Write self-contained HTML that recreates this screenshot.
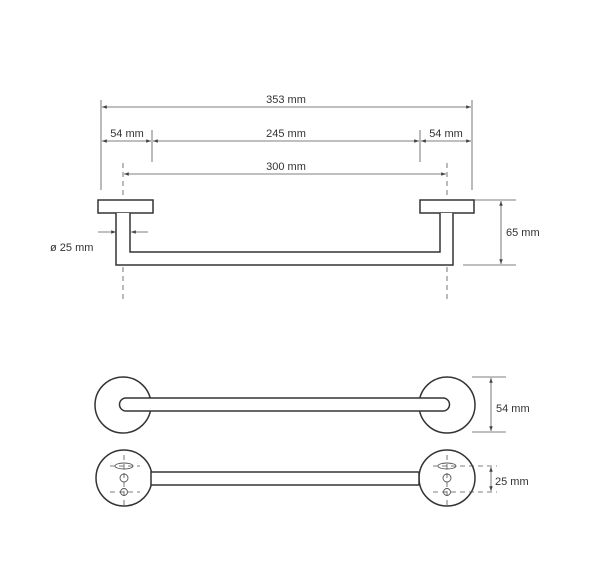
<!DOCTYPE html>
<html><head><style>body{margin:0;background:#fff}svg{display:block}text{font-family:"Liberation Sans",sans-serif;font-size:11px;fill:#333}</style></head><body>
<svg width="600" height="587" viewBox="0 0 600 587" xmlns="http://www.w3.org/2000/svg">
<defs><marker id="a" viewBox="0 0 6 6" refX="6" refY="3" markerWidth="6" markerHeight="6" orient="auto-start-reverse"><path d="M0,0.8 L6,3 L0,5.2z" fill="#444"/></marker></defs>
<g stroke="#555" stroke-width="0.8" fill="none">
<line x1="101" y1="100" x2="101" y2="190"/><line x1="472" y1="100" x2="472" y2="190"/>
<line x1="152" y1="130" x2="152" y2="162"/><line x1="420" y1="130" x2="420" y2="162"/>
<line x1="102" y1="107" x2="471" y2="107" marker-start="url(#a)" marker-end="url(#a)"/>
<line x1="102" y1="141" x2="151" y2="141" marker-start="url(#a)" marker-end="url(#a)"/>
<line x1="153" y1="141" x2="419" y2="141" marker-start="url(#a)" marker-end="url(#a)"/>
<line x1="421" y1="141" x2="471" y2="141" marker-start="url(#a)" marker-end="url(#a)"/>
<line x1="124" y1="174" x2="446" y2="174" marker-start="url(#a)" marker-end="url(#a)"/>
<line x1="98" y1="232" x2="116" y2="232" marker-end="url(#a)"/>
<line x1="148" y1="232" x2="131" y2="232" marker-end="url(#a)"/>
<line x1="463" y1="200" x2="516" y2="200"/><line x1="463" y1="265" x2="516" y2="265"/>
<line x1="501" y1="201" x2="501" y2="264" marker-start="url(#a)" marker-end="url(#a)"/>
<line x1="472" y1="377" x2="506" y2="377"/><line x1="472" y1="432" x2="506" y2="432"/>
<line x1="491" y1="378" x2="491" y2="431" marker-start="url(#a)" marker-end="url(#a)"/>
<line x1="491" y1="467" x2="491" y2="491" marker-start="url(#a)" marker-end="url(#a)"/>
</g>
<g stroke="#333" stroke-width="1.5" fill="#fff">
<rect x="98" y="200" width="55" height="13"/><rect x="420" y="200" width="54" height="13"/>
<path d="M116,213 V265 H453 V213 M440,213 V252 H130 V213"/>
<circle cx="123" cy="405" r="28"/><circle cx="447" cy="405" r="28"/>
<path d="M126,398 H443 A6.5,6.5 0 0 1 443,411 H126 A6.5,6.5 0 0 1 126,398Z"/>
<circle cx="124" cy="478" r="28"/><circle cx="447" cy="478" r="28"/>
<path d="M151,472 H419 V485 H151Z"/>
</g>
<g stroke="#555" stroke-width="0.8" stroke-dasharray="5,4" fill="none">
<line x1="123" y1="163" x2="123" y2="199"/><line x1="447" y1="163" x2="447" y2="199"/>
<line x1="123" y1="267" x2="123" y2="300"/><line x1="447" y1="267" x2="447" y2="300"/>
<line x1="433" y1="466" x2="497" y2="466"/><line x1="433" y1="492" x2="497" y2="492"/>
<line x1="124" y1="455" x2="124" y2="506"/><line x1="110" y1="492" x2="140" y2="492"/>
<line x1="447" y1="455" x2="447" y2="506"/>
<line x1="110" y1="466" x2="140" y2="466"/>
</g>
<g stroke="#555" stroke-width="0.9" fill="none">
<ellipse cx="124" cy="466" rx="9" ry="3"/><circle cx="124" cy="478" r="4"/><circle cx="124" cy="492" r="3.5"/>
<ellipse cx="447" cy="466" rx="9" ry="3"/><circle cx="447" cy="478" r="4"/><circle cx="447" cy="492" r="3.5"/>
</g>
<text x="286" y="103" text-anchor="middle">353 mm</text>
<text x="127" y="137" text-anchor="middle">54 mm</text>
<text x="286" y="137" text-anchor="middle">245 mm</text>
<text x="446" y="137" text-anchor="middle">54 mm</text>
<text x="286" y="170" text-anchor="middle">300 mm</text>
<text x="50" y="251">ø 25 mm</text>
<text x="506" y="236">65 mm</text>
<text x="496" y="412">54 mm</text>
<text x="495" y="485">25 mm</text>
</svg>
</body></html>
